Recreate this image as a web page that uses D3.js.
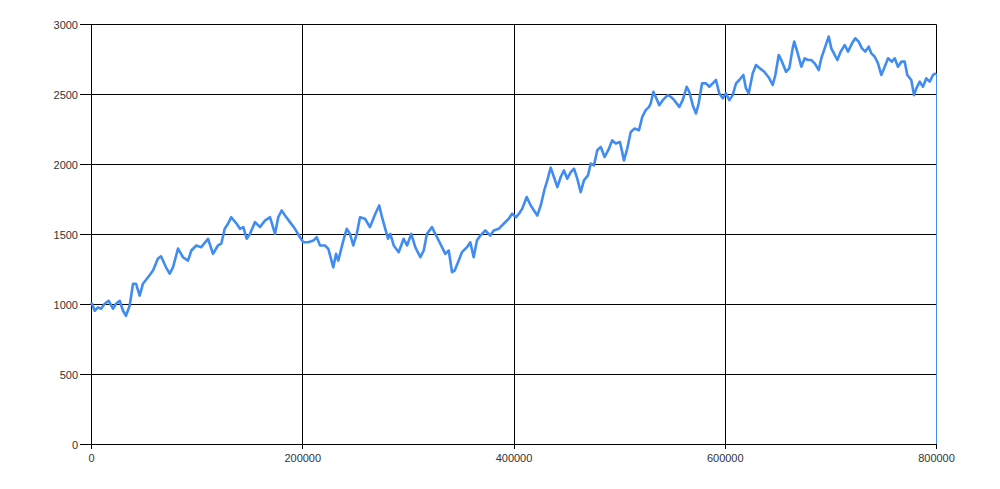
<!DOCTYPE html>
<html>
<head>
<meta charset="utf-8">
<script src="https://cdn.jsdelivr.net/npm/d3@7"></script>
<style>
  html, body { margin: 0; padding: 0; background: #fff; }
  svg { display: block; }
  text { font-family: "Liberation Sans", Arial, sans-serif; font-size: 11px; fill: #333; }
</style>
</head>
<body>
<svg id="chart" width="1000" height="489"></svg>
<script>
// ---- data ----
const xValues = [
  0, 1000, 3500, 6600, 9500, 13000, 16800, 20800, 23700, 27200, 30300, 33100, 36600, 39800, 42600, 46100, 49200,
  54000, 58700, 63400, 66300, 71000, 74500, 77600, 82400, 87100, 91800, 95000, 99700, 104400, 110800, 115500,
  120200, 123400, 126600, 129700, 132800,
  137900, 141100, 144200, 147400, 150500, 155300, 160000, 164700, 169500, 174200, 177300, 180500, 183700,
  188400, 193100, 197900, 201000, 205700, 210500, 213700, 216800, 221500, 224700, 229400, 232000, 234100,
  238900, 242100, 245200, 248300, 251600, 254700, 259400, 264100,
  269200, 272900, 275500, 278600, 281200, 283400, 286600, 291300, 296000, 299200, 303200, 307000, 311800,
  315000, 318100, 322800, 327600, 332300, 335400, 338700, 341800, 344300, 347500, 351200, 356000, 359100,
  362300, 365400, 368600, 373300, 378000, 381300, 386000, 390700, 395500, 398600, 402400,
  405200, 408300, 412500, 416300, 419400, 422500, 425800, 429500, 432000, 435200, 438300, 441500, 444700,
  447800, 450900, 454200, 457300, 460400, 463600, 466700, 470500, 473100, 476200, 479300, 482600, 486300,
  490400, 493500, 496800, 500800, 504600, 507700, 511000, 514700, 518800, 521900, 525200, 528300, 529900,
  532400, 534600,
  538000, 541300, 546000, 549100, 552200, 557000, 560200, 564000, 566400, 569700, 572800, 575300, 578500,
  582300, 585400, 588600, 591700, 594800, 598100, 601200, 604300, 607500, 610700, 613800, 617600, 620100,
  622700, 626500, 629600, 633400, 637400, 642200, 645400, 647900, 651100, 654200, 658000, 661100, 664300,
  665800, 669100,
  672500, 675700, 678800, 681900, 685200, 689000, 691400, 694600, 698400, 700900, 704100, 706600, 709800,
  713600, 716700, 720500, 723600, 726800, 729900, 733100, 736300, 738800, 742000, 745100, 748200, 750800,
  754600, 758300, 760900, 764000, 767200, 770400, 772800, 776600, 779200, 781400, 784600, 787700, 790800,
  794000, 797200, 800000, 800000
];
const yValues = [
  1010, 1000, 952, 976, 966, 1002, 1023, 966, 1002, 1023, 952, 916, 988, 1145, 1145, 1060, 1145,
  1191, 1239, 1325, 1341, 1262, 1217, 1262, 1396, 1334, 1310, 1382, 1418, 1406, 1466, 1358,
  1418, 1432, 1537, 1573, 1620,
  1573, 1537, 1549, 1466, 1501, 1585, 1549, 1596, 1620, 1501, 1620, 1668, 1632,
  1585, 1537, 1477, 1441, 1441, 1453, 1477, 1418, 1418, 1394, 1262, 1358, 1310,
  1453, 1537, 1501, 1418, 1501, 1620, 1609, 1549,
  1645, 1704, 1620, 1537, 1466, 1501, 1418, 1370, 1466, 1418, 1501, 1406, 1334,
  1382, 1501, 1549, 1477, 1406, 1358, 1382, 1227, 1239, 1298, 1370, 1406, 1441,
  1334, 1453, 1489, 1525, 1489, 1525, 1537, 1573, 1609, 1645, 1620,
  1645, 1681, 1764, 1704, 1668, 1632, 1704, 1823, 1883, 1974, 1907, 1835, 1907,
  1954, 1895, 1942, 1966, 1895, 1799, 1883, 1919, 2003, 1990, 2098, 2122, 2050,
  2110, 2169, 2146, 2157, 2026, 2110, 2229, 2253, 2241, 2337, 2385, 2408, 2432,
  2516, 2480,
  2420, 2456, 2492, 2480, 2456, 2408, 2456, 2552, 2516, 2420, 2361, 2432, 2576,
  2576, 2552, 2576, 2600, 2505, 2469, 2505, 2456, 2492, 2576, 2600, 2636, 2540,
  2505, 2648, 2707, 2683, 2659, 2612, 2564, 2636, 2779, 2731, 2659, 2683, 2826,
  2874, 2790,
  2695, 2755, 2743, 2743, 2719, 2671, 2755, 2826, 2910, 2826, 2779, 2743, 2803,
  2850, 2803, 2862, 2898, 2874, 2826, 2803, 2838, 2790, 2766, 2719, 2636, 2683,
  2755, 2731, 2755, 2695, 2731, 2731, 2636, 2600, 2492, 2540, 2588, 2552, 2612,
  2588, 2636, 2648, 0
];
const xTicks = [0, 200000, 400000, 600000, 800000];
const yTicks = [0, 500, 1000, 1500, 2000, 2500, 3000];

// ---- chart ----
const svg = d3.select("#chart");
const plotLeft = 91, plotRight = 936, plotTop = 24, plotBottom = 444;
const x = d3.scaleLinear().domain([0, 800000]).range([plotLeft, plotRight]);
const y = d3.scaleLinear().domain([0, 3000]).range([plotBottom, plotTop]);

const data = xValues.map((v, i) => ({ x: v, y: yValues[i] }));
const lineGen = d3.line().x(d => x(d.x)).y(d => y(d.y));

// grid
const g = svg.append("g");
g.selectAll("line.hg").data(yTicks).enter().append("line")
  .attr("x1", plotLeft - 11).attr("x2", plotRight + 0.5)
  .attr("y1", d => Math.round(y(d)) + 0.5).attr("y2", d => Math.round(y(d)) + 0.5)
  .attr("stroke", "#000").attr("stroke-width", 1);
g.selectAll("line.vg").data(xTicks).enter().append("line")
  .attr("x1", d => Math.round(x(d)) + 0.5).attr("x2", d => Math.round(x(d)) + 0.5)
  .attr("y1", plotTop + 0.5).attr("y2", plotBottom + 5)
  .attr("stroke", "#000").attr("stroke-width", 1);

// labels
g.selectAll("text.yl").data(yTicks).enter().append("text")
  .attr("x", plotLeft - 13).attr("y", d => y(d) + 0.5)
  .attr("text-anchor", "end").attr("dominant-baseline", "central")
  .text(d => d);
g.selectAll("text.xl").data(xTicks).enter().append("text")
  .attr("x", d => x(d) + 0.5).attr("y", plotBottom + 18)
  .attr("text-anchor", "middle")
  .text(d => d);

// series line (main body) and closing drop
const mainData = data.slice(0, data.length - 1);
const dropData = data.slice(data.length - 2);
svg.append("path").datum(mainData)
  .attr("d", lineGen)
  .attr("fill", "none").attr("stroke", "#418CF0")
  .attr("stroke-width", 2.6).attr("stroke-linejoin", "round");
svg.append("path").datum(dropData)
  .attr("d", d3.line().x(d => Math.round(x(d.x)) + 0.5).y(d => y(d.y)))
  .attr("fill", "none").attr("stroke", "#418CF0")
  .attr("stroke-width", 1);
</script>
</body>
</html>
